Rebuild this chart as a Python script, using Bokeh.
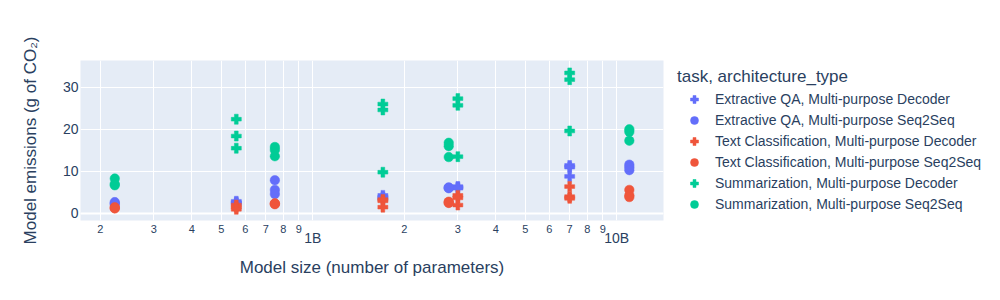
from bokeh.plotting import figure
from bokeh.models import (FixedTicker, LogAxis, Legend, LegendItem, Span)
from bokeh.embed import file_html
from bokeh.resources import INLINE

# ---------------- data ----------------
decoder_sizes = [5.6e8, 1.7e9, 3.0e9, 7.0e9]
seq2seq_sizes = [2.23e8, 7.5e8, 2.8e9, 1.1e10]

qa_decoder = [[2.9, 2.6, 2.4], [4.3, 3.9, 3.6], [6.4, 6.2, 6.0], [11.4, 11.0, 8.8]]
qa_seq2seq = [[2.7, 2.4, 2.2], [7.9, 5.6, 4.6], [6.2, 6.1, 6.0], [11.6, 11.0, 10.3]]
tc_decoder = [[2.0, 1.5, 1.0], [3.3, 3.0, 1.5], [4.3, 3.7, 2.0], [6.4, 4.0, 3.6]]
tc_seq2seq = [[1.5, 1.3, 1.2], [2.4, 2.3, 2.2], [2.8, 2.6, 2.5], [5.6, 4.3, 3.9]]
sum_decoder = [[22.4, 18.4, 15.5], [26.0, 24.6, 9.8], [27.3, 25.7, 13.5], [33.4, 31.8, 19.6]]
sum_seq2seq = [[8.3, 7.0, 6.7], [15.8, 15.1, 13.6], [16.8, 16.0, 13.4], [20.0, 19.4, 17.3]]

series_labels = [
    "Extractive QA, Multi-purpose Decoder",
    "Extractive QA, Multi-purpose Seq2Seq",
    "Text Classification, Multi-purpose Decoder",
    "Text Classification, Multi-purpose Seq2Seq",
    "Summarization, Multi-purpose Decoder",
    "Summarization, Multi-purpose Seq2Seq",
]

x_minor_ticks = [2e8, 3e8, 4e8, 5e8, 6e8, 7e8, 8e8, 9e8,
                 2e9, 3e9, 4e9, 5e9, 6e9, 7e9, 8e9, 9e9]
x_minor_labels = ["2", "3", "4", "5", "6", "7", "8", "9",
                  "2", "3", "4", "5", "6", "7", "8", "9"]
x_major_ticks = [1e9, 1e10]
x_major_labels = ["1B", "10B"]
y_ticks = [0, 10, 20, 30]

x_range = (1.72e8, 1.425e10)
y_range = (-1.67, 36.35)

# ---------------- style ----------------
FONT = "Liberation Sans"
TXT = "#2a3f5f"
BLUE, RED, GREEN = "#636EFA", "#EF553B", "#00CC96"

p = figure(frame_width=583, frame_height=160, x_axis_type="log",
           x_range=x_range, y_range=y_range,
           output_backend="svg", toolbar_location=None,
           min_border_left=80, min_border_right=321,
           min_border_top=60, min_border_bottom=64)
p.background_fill_color = "#E5ECF6"
p.border_fill_color = "white"
p.outline_line_color = None

# grids
p.xgrid.ticker = FixedTicker(ticks=sorted(x_minor_ticks + x_major_ticks))
p.ygrid.ticker = FixedTicker(ticks=y_ticks)
for g in (p.xgrid, p.ygrid):
    g.grid_line_color = "white"
    g.grid_line_width = 1
    g.grid_line_alpha = 1

zero = Span(location=0, dimension="width", line_color="white",
            line_width=2, level="underlay")
p.add_layout(zero)

# x axis: minor digit labels
xa = p.xaxis[0]
xa.ticker = FixedTicker(ticks=x_minor_ticks)
xa.major_label_overrides = dict(zip(x_minor_ticks, x_minor_labels))
xa.major_label_text_font = FONT
xa.major_label_text_font_size = "11px"
xa.major_label_text_color = TXT
xa.major_label_standoff = 4
xa.axis_line_color = None
xa.major_tick_line_color = None
xa.minor_tick_line_color = None
xa.major_tick_out = 0
xa.major_tick_in = 0
xa.minor_tick_out = 0

# x axis: major labels + title
xb = LogAxis(ticker=FixedTicker(ticks=x_major_ticks))
xb.major_label_overrides = dict(zip(x_major_ticks, x_major_labels))
xb.major_label_text_font = FONT
xb.major_label_text_font_size = "14px"
xb.major_label_text_color = TXT
xb.major_label_standoff = -6
xb.axis_line_color = None
xb.major_tick_line_color = None
xb.minor_tick_line_color = None
xb.major_tick_out = 0
xb.major_tick_in = 0
xb.minor_tick_out = 0
xb.axis_label = "Model size (number of parameters)"
xb.axis_label_text_font = FONT
xb.axis_label_text_font_size = "17px"
xb.axis_label_text_font_style = "normal"
xb.axis_label_text_color = TXT
xb.axis_label_standoff = 9
p.add_layout(xb, "below")

# y axis
ya = p.yaxis[0]
ya.ticker = FixedTicker(ticks=y_ticks)
ya.major_label_text_font = FONT
ya.major_label_text_font_size = "14px"
ya.major_label_text_color = TXT
ya.major_label_standoff = 2
ya.axis_line_color = None
ya.major_tick_line_color = None
ya.minor_tick_line_color = None
ya.major_tick_out = 0
ya.major_tick_in = 0
ya.axis_label = "Model emissions (g of CO\u2082)"
ya.axis_label_text_font = FONT
ya.axis_label_text_font_size = "17px"
ya.axis_label_text_font_style = "normal"
ya.axis_label_text_color = TXT
ya.axis_label_standoff = 20

# ---------------- glyphs ----------------
series = [
    (qa_decoder, decoder_sizes, "plus", BLUE),
    (qa_seq2seq, seq2seq_sizes, "circle", BLUE),
    (tc_decoder, decoder_sizes, "plus", RED),
    (tc_seq2seq, seq2seq_sizes, "circle", RED),
    (sum_decoder, decoder_sizes, "plus", GREEN),
    (sum_seq2seq, seq2seq_sizes, "circle", GREEN),
]
items = []
for (vals, sizes, marker, color), label in zip(series, series_labels):
    xs, ys = [], []
    for s, v in zip(sizes, vals):
        for y in v:
            xs.append(s)
            ys.append(y)
    r = p.scatter(xs, ys, marker=marker, size=10 if marker == "plus" else 9.5,
                  fill_color=color, line_color=color, line_width=0.5)
    items.append(LegendItem(label=label, renderers=[r]))

legend = Legend(items=items, location=(14, 6))
legend.title = "task, architecture_type"
legend.title_text_font = FONT
legend.title_text_font_size = "17px"
legend.title_text_font_style = "normal"
legend.title_text_color = TXT
legend.title_standoff = 2
legend.label_text_font = FONT
legend.label_text_font_size = "14px"
legend.label_text_color = TXT
legend.glyph_width = 34
legend.glyph_height = 20
legend.label_height = 20
legend.label_standoff = 4
legend.spacing = 1
legend.padding = 0
legend.margin = 0
legend.border_line_color = None
legend.background_fill_alpha = 0
p.add_layout(legend, "right")

open("out.html", "w").write(file_html(p, INLINE))
